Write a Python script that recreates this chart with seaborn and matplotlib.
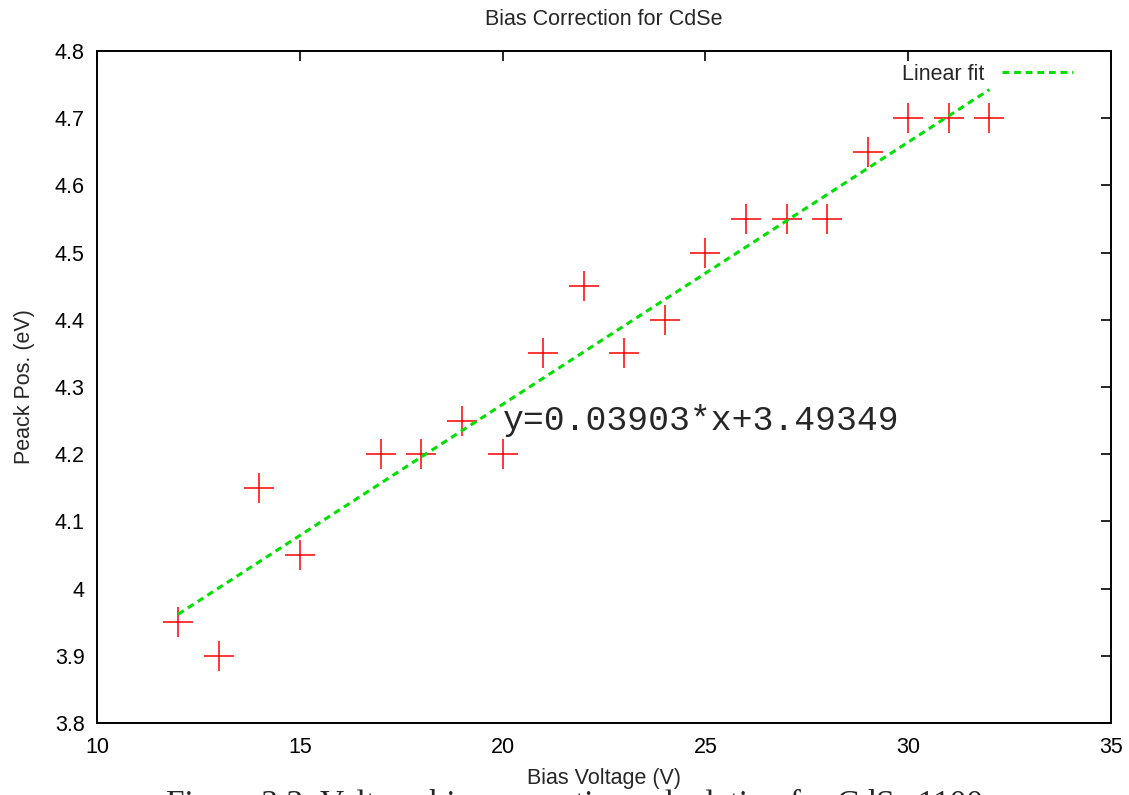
import numpy as np
import pandas as pd
import matplotlib
matplotlib.use("Agg")
import matplotlib.pyplot as plt
import seaborn as sns

bias_voltage = [12, 13, 14, 15, 17, 18, 19, 20, 21, 22, 23, 24, 25, 26, 27, 28, 29, 30, 31, 32]
peak_pos = [3.95, 3.90, 4.15, 4.05, 4.20, 4.20, 4.25, 4.20, 4.35, 4.45, 4.35, 4.40, 4.50, 4.55, 4.55, 4.55, 4.65, 4.70, 4.70, 4.70]
fit_slope = 0.03903
fit_intercept = 3.49349
fit_range = [12, 32]
x_ticks = [10, 15, 20, 25, 30, 35]
y_ticks = [3.8, 3.9, 4.0, 4.1, 4.2, 4.3, 4.4, 4.5, 4.6, 4.7, 4.8]
y_tick_labels = ["3.8", "3.9", "4", "4.1", "4.2", "4.3", "4.4", "4.5", "4.6", "4.7", "4.8"]

sns.set_style("white")
plt.rcParams['font.family'] = ['Liberation Sans', 'DejaVu Sans']

FS = 15.5
fig = plt.figure(figsize=(11.29, 7.95), dpi=100)
ax = fig.add_axes([97/1129, 1 - 723/795, (1111-97)/1129, (723-51)/795])

df = pd.DataFrame({"x": bias_voltage, "y": peak_pos})
sns.scatterplot(data=df, x="x", y="y", marker="+", s=470, color="#ff0000",
                linewidth=1.1, ax=ax, legend=False, zorder=3)

fx = np.array(fit_range, dtype=float)
fit_df = pd.DataFrame({"x": fx, "y": fit_slope * fx + fit_intercept})
sns.lineplot(data=fit_df, x="x", y="y", color="#00e000", linestyle=(0, (2.2, 1.6)),
             linewidth=2.2, ax=ax, label="Linear fit", zorder=4)

ax.set_xlim(10, 35)
ax.set_ylim(3.8, 4.8)
ax.set_xticks(x_ticks)
ax.set_yticks(y_ticks)
ax.set_yticklabels(y_tick_labels)
ax.tick_params(direction="in", length=7, width=1.2, top=True, right=True,
               labelsize=FS, colors="black")
ax.tick_params(axis="y", pad=9)
ax.tick_params(axis="x", pad=10)
for s in ax.spines.values():
    s.set_linewidth(1.4)
    s.set_color("black")

ax.set_xlabel("Bias Voltage (V)", fontsize=FS, labelpad=7)
ax.set_ylabel("Peack Pos. (eV)", fontsize=FS, labelpad=14)
ax.set_title("Bias Correction for CdSe", fontsize=FS, pad=19)

ax.text(20, 4.25, "y=0.03903*x+3.49349", family=["Liberation Mono", "DejaVu Sans Mono"],
        fontsize=25, va="center", ha="left")

leg = ax.legend(loc="upper right", frameon=False, fontsize=FS, markerfirst=False,
                handlelength=3.3, borderaxespad=0.2, bbox_to_anchor=(0.975, 1.0))

fig.text(0.509, 1 - 789/795, "Figure 3.3: Voltage bias correction calculation for CdSe 1100",
         family=["Liberation Serif", "DejaVu Serif"], fontsize=24, ha="center", va="top")

fig.savefig("out.png", dpi=100)
